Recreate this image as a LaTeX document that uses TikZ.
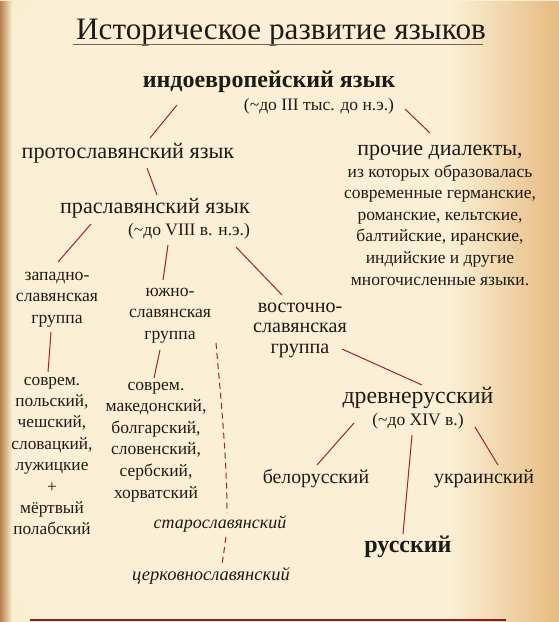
\documentclass[tikz,border=0pt]{standalone}
\usepackage{fontspec}
\setmainfont{Liberation Serif}
\usetikzlibrary{fadings}
\definecolor{ink}{HTML}{1E1A17}
\definecolor{linkred}{HTML}{A3202E}
\definecolor{paper}{HTML}{FBF0D5}
\definecolor{paperedge}{HTML}{F3DCAC}
\definecolor{paperdark}{HTML}{DCAA66}
\definecolor{paperorange}{HTML}{E0A966}
\definecolor{paperbrown}{HTML}{B9824C}
\definecolor{rulegray}{HTML}{6E6558}
\pgfdeclareradialshading{parchment}{\pgfpoint{0bp}{0bp}}{color(0bp)=(paper); color(32bp)=(paper); color(50bp)=(paperedge); color(72bp)=(paperdark)}
\tikzfading[name=fade right, left color=transparent!100, right color=transparent!0]
\tikzfading[name=fade left, left color=transparent!0, right color=transparent!100]
\begin{document}
\begin{tikzpicture}[x=1pt, y=-1pt,
    txt/.style={anchor=base, inner sep=0pt, text=ink, align=center},
    body/.style={txt, font=\fontsize{17.6}{21.5}\selectfont},
    date/.style={txt, font=\fontsize{17.5}{21}\selectfont},
    link/.style={draw=linkred, line width=1pt},
    slavlink/.style={link, dash pattern=on 6pt off 4pt}]
    % parchment
    \shade[shading=parchment] (0,0) rectangle (559,622);
    \fill[paperorange, fill opacity=0.75, path fading=fade right] (450,0) rectangle (559,622);
    \fill[paperbrown, path fading=fade left] (0,0) rectangle (12,622);
    \useasboundingbox (0,0) rectangle (559,622);
    % title
    \node[txt, font=\fontsize{31.2}{36}\selectfont] (title) at (281,39) {Историческое развитие языков};
    \draw[rulegray, line width=0.9pt] (73,44.6) -- (483,44.6);
    % tree (multi-line nodes sit on their last line)
    \node[txt, font=\fontsize{24}{28}\selectfont\bfseries] (indo) at (269,87) {индоевропейский язык};
    \node[date] (indodate) at (319,110) {(\textasciitilde до III тыс. до н.э.)};
    \node[txt, font=\fontsize{22.2}{26}\selectfont] (proto) at (128,158) {протославянский язык};
    \node[txt, font=\fontsize{22.1}{26}\selectfont] (pra) at (155,213) {праславянский язык};
    \node[date] (pradate) at (189,235) {(\textasciitilde до VIII в. н.э.)};
    \node[txt, font=\fontsize{22}{26}\selectfont] (prochie) at (440,155) {прочие диалекты,};
    \node[body, font=\fontsize{17.5}{21.6}\selectfont] (prochlist) at (440,285) {из которых образовалась\\современные германские,\\романские, кельтские,\\балтийские, иранские,\\индийские и другие\\многочисленные языки.};
    \node[body] (zapad) at (57,323) {западно-\\славянская\\группа};
    \node[body] (yuzhno) at (170,339) {южно-\\славянская\\группа};
    \node[txt, font=\fontsize{20.1}{20.5}\selectfont] (vost) at (300,353) {восточно-\\славянская\\группа};
    \node[body, font=\fontsize{17.3}{21.4}\selectfont] (zlist) at (52,534.8) {соврем.\\польский,\\чешский,\\словацкий,\\лужицкие\\+\\мёртвый\\полабский};
    \node[body, font=\fontsize{17.5}{21.6}\selectfont] (ylist) at (156,498) {соврем.\\македонский,\\болгарский,\\словенский,\\сербский,\\хорватский};
    \node[txt, font=\fontsize{23.8}{28}\selectfont] (drevne) at (418,403) {древнерусский};
    \node[date] (drevnedate) at (418,425) {(\textasciitilde до XIV в.)};
    \node[txt, font=\fontsize{19.8}{24}\selectfont] (belo) at (316,483) {белорусский};
    \node[txt, font=\fontsize{20}{24}\selectfont] (ukr) at (484,483) {украинский};
    \node[txt, font=\fontsize{24}{28}\selectfont\bfseries] (russk) at (408,552) {русский};
    \node[txt, font=\fontsize{18}{22}\selectfont\itshape] (staro) at (220,528) {старославянский};
    \node[txt, font=\fontsize{18.5}{22}\selectfont\itshape] (tserk) at (211,580) {церковнославянский};
    % links
    \draw[link] ([shift={(-92,18)}]indo.base) -- ([shift={(22,-20)}]proto.base);
    \draw[link] ([shift={(136,22)}]indo.base) -- ([shift={(-10,-22)}]prochie.base);
    \draw[link] ([shift={(19,10)}]proto.base) -- ([shift={(2,-18)}]pra.base);
    \draw[link] ([shift={(-64,11)}]pra.base) -- ([shift={(1,-61)}]zapad.base);
    \draw[link] ([shift={(13,32)}]pra.base) -- ([shift={(-7,-59)}]yuzhno.base);
    \draw[link] ([shift={(81,34)}]pra.base) -- ([shift={(-18,-58)}]vost.base);
    \draw[link] ([shift={(-6,9)}]zapad.base) -- ([shift={(-4,-162.8)}]zlist.base);
    \draw[link] ([shift={(-10,11)}]yuzhno.base) -- ([shift={(-2,-120)}]ylist.base);
    \draw[link] ([shift={(42,-4)}]vost.base) -- ([shift={(4,-18)}]drevne.base);
    \draw[link] ([shift={(-64,20)}]drevne.base) -- ([shift={(1,-18)}]belo.base);
    \draw[link] ([shift={(-6,32)}]drevne.base) -- ([shift={(-5,-18)}]russk.base);
    \draw[link] ([shift={(57,24)}]drevne.base) -- ([shift={(14,-18)}]ukr.base);
    \draw[slavlink] ([shift={(46,4)}]yuzhno.base) .. controls +(5,57) and +(0,-53) .. ([shift={(7,-15)}]staro.base);
    \draw[slavlink] ([shift={(6,9)}]staro.base) -- ([shift={(11,-15)}]tserk.base);
    \draw[linkred!85!black, line width=1.5pt] (30,620) -- (506,620);
\end{tikzpicture}
\end{document}
